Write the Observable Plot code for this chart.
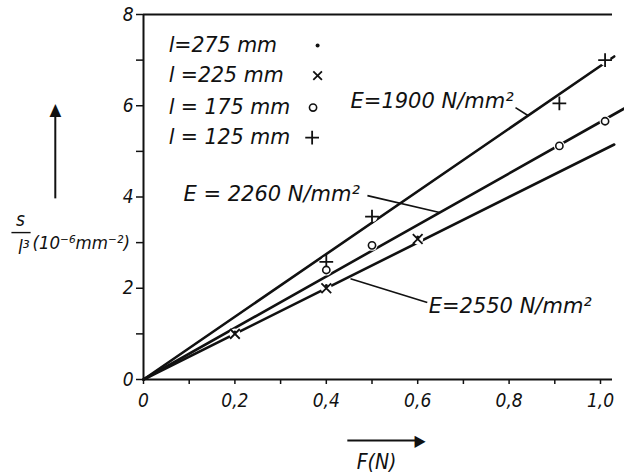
<!DOCTYPE html>
<html><head><meta charset="utf-8">
<script src="https://cdn.jsdelivr.net/npm/d3@7"></script>
<script src="https://cdn.jsdelivr.net/npm/@observablehq/plot@0.6"></script>
<style>body{margin:0;background:#fff}#chart svg{display:block}</style>
</head><body><div id="chart"></div>
<script>
// fitted lines (from origin to end point)
const lineNames = ["E=1900", "E=2260", "E=2550"];
const lineEndF = [1.03, 1.052, 1.03];
const lineEndS = [7.08, 5.94, 5.15];

// measured points per specimen length
const plusF = [0.4, 0.5, 0.91, 1.01];   // l = 125 mm
const plusS = [2.58, 3.57, 6.05, 7.0];
const circF = [0.4, 0.5, 0.91, 1.01];   // l = 175 mm
const circS = [2.4, 2.94, 5.12, 5.66];
const timesF = [0.2, 0.4, 0.6];         // l = 225 mm
const timesS = [1.0, 2.0, 3.08];
const dotF = [0.2, 0.4, 0.6];           // l = 275 mm
const dotS = [1.04, 2.06, 3.12];

// legend
const legendLabels = ["l=275 mm", "l =225 mm", "l = 175 mm", "l = 125 mm"];
const legendSymbols = ["dot", "times", "circle", "plus"];
const legendS = [7.32, 6.66, 5.96, 5.30];
const legendTextF = 0.055, legendSymF = 0.381;

// annotation labels and leaders
const annText = ["E=1900 N/mm²", "E = 2260 N/mm²", "E=2550 N/mm²"];
const annF = [0.453, 0.0875, 0.624];
const annS = [6.09, 4.05, 1.60];
const leadF1 = [0.814, 0.490, 0.453], leadS1 = [5.96, 4.03, 2.21];
const leadF2 = [0.842, 0.648, 0.621], leadS2 = [5.78, 3.66, 1.69];

// ticks
const xTicks = [0, 0.1, 0.2, 0.3, 0.4, 0.5, 0.6, 0.7, 0.8, 0.9, 1.0];
const yTicks = [0, 1, 2, 3, 4, 5, 6, 7, 8];

const lines = lineNames.flatMap((n, i) => [{n, F: 0, S: 0}, {n, F: lineEndF[i], S: lineEndS[i]}]);
const pts = (F, S) => F.map((f, i) => ({F: f, S: S[i]}));
const plusPts = pts(plusF, plusS), circPts = pts(circF, circS), timesPts = pts(timesF, timesS), dotPts = pts(dotF, dotS);
const allPts = [...plusPts, ...circPts, ...timesPts];
const legend = legendLabels.map((l, i) => ({l, sym: legendSymbols[i], S: legendS[i]}));
const ann = annText.map((t, i) => ({t, F: annF[i], S: annS[i], F1: leadF1[i], S1: leadS1[i], F2: leadF2[i], S2: leadS2[i]}));

const condensed = "'DejaVu Sans Condensed', 'DejaVu Sans'";
const regular = "'DejaVu Sans'";
const fmtX = d => { const k = Math.round(d * 10); if (k % 2) return ""; return k === 0 ? "0" : (d.toFixed(1).replace(".", ",")); };

const chart = Plot.plot({
  width: 624, height: 476,
  marginLeft: 143, marginRight: 12, marginTop: 14, marginBottom: 97,
  style: {fontFamily: condensed, fontStyle: "italic", fontSize: "18px", background: "#fff", color: "#111"},
  x: {domain: [0, 469 / 457], label: null},
  y: {domain: [0, 8], label: null},
  marks: [
    Plot.axisX({ticks: xTicks, tickFormat: fmtX, tickSize: 5, tickPadding: 9, fontSize: 19, fontStyle: "italic", label: null, strokeWidth: 1.5}),
    Plot.axisY({ticks: yTicks, tickFormat: d => d % 2 ? "" : String(d), tickSize: 7, tickPadding: 3, fontSize: 19, fontStyle: "italic", label: null, strokeWidth: 1.5}),
    Plot.ruleY([0], {stroke: "#111", strokeWidth: 2}),
    Plot.ruleX([0], {stroke: "#111", strokeWidth: 2}),
    Plot.ruleY([8], {stroke: "#111", strokeWidth: 2}),
    Plot.line(lines, {x: "F", y: "S", z: "n", stroke: "#111", strokeWidth: 2.6}),
    // white halos around markers (gaps in the lines)
    Plot.dot(allPts, {x: "F", y: "S", r: 5.5, fill: "#fff", stroke: "none"}),
    // leaders
    Plot.link(ann, {x1: "F1", y1: "S1", x2: "F2", y2: "S2", stroke: "#111", strokeWidth: 1.6}),
    Plot.text(ann, {x: "F", y: "S", text: "t", textAnchor: "start", fontSize: 21, fontFamily: regular, fontStyle: "italic", fill: "#111"}),
    // markers
    Plot.dot(plusPts, {x: "F", y: "S", symbol: "plus", r: 4.5, stroke: "#111", strokeWidth: 1.8}),
    Plot.dot(circPts, {x: "F", y: "S", symbol: "circle", r: 3.6, stroke: "#111", fill: "#fff", strokeWidth: 1.6}),
    Plot.dot(timesPts, {x: "F", y: "S", symbol: "times", r: 4.5, stroke: "#111", strokeWidth: 1.8}),
    Plot.dot(dotPts, {x: "F", y: "S", r: 1.6, fill: "#111"}),
    // legend
    Plot.text(legend, {x: () => legendTextF, y: "S", text: "l", textAnchor: "start", fontSize: 20.5, fontFamily: regular, fontStyle: "italic", fill: "#111"}),
    Plot.dot(legend.filter(d => d.sym === "dot"), {x: () => legendSymF, y: "S", r: 2, fill: "#111"}),
    Plot.dot(legend.filter(d => d.sym === "times"), {x: () => legendSymF, y: "S", symbol: "times", r: 4, stroke: "#111", strokeWidth: 1.8}),
    Plot.dot(legend.filter(d => d.sym === "circle"), {x: () => legendSymF - 0.01, y: "S", symbol: "circle", r: 3.6, stroke: "#111", strokeWidth: 1.6, fill: "#fff"}),
    Plot.dot(legend.filter(d => d.sym === "plus"), {x: () => legendSymF - 0.012, y: "S", symbol: "plus", r: 4.5, stroke: "#111", strokeWidth: 1.8}),
    // y axis title: s / l^3 (10^-6 mm^-2) with arrow
    Plot.text([{F: -0.269, S: 3.5, t: "s"}, {F: -0.262, S: 2.88, t: "l³"}], {x: "F", y: "S", text: "t", fontSize: 19, fontStyle: "italic", fill: "#111"}),
    Plot.link([{F1: -0.289, F2: -0.247, S: 3.22}], {x1: "F1", x2: "F2", y1: "S", y2: "S", stroke: "#111", strokeWidth: 1.4}),
    Plot.text([{F: -0.243, S: 3.0, t: "(10⁻⁶mm⁻²)"}], {x: "F", y: "S", text: "t", textAnchor: "start", fontSize: 18.5, fontStyle: "italic", fill: "#111"}),
    Plot.link([{F: -0.193, S1: 3.97, S2: 5.85}], {x1: "F", x2: "F", y1: "S1", y2: "S2", stroke: "#111", strokeWidth: 2}),
    Plot.text([{F: -0.193, S: 5.92, t: "▲"}], {x: "F", y: "S", text: "t", fontSize: 17, fontStyle: "normal", fill: "#111"}),
    // x axis title with arrow
    Plot.link([{F1: 0.446, F2: 0.595, S: -1.337}], {x1: "F1", x2: "F2", y1: "S", y2: "S", stroke: "#111", strokeWidth: 2}),
    Plot.text([{F: 0.605, S: -1.337, t: "▶"}], {x: "F", y: "S", text: "t", fontSize: 16, fontStyle: "normal", fill: "#111"}),
    Plot.text([{F: 0.51, S: -1.82, t: "F(N)"}], {x: "F", y: "S", text: "t", fontSize: 21, fontStyle: "italic", fill: "#111"})
  ]
});
document.getElementById("chart").append(chart);
</script>
</body></html>
